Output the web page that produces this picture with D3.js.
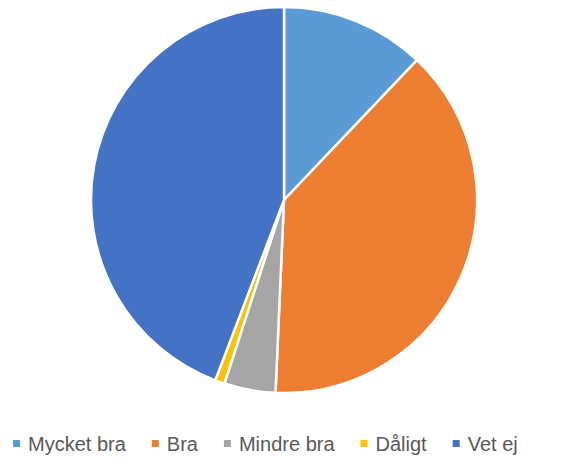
<!DOCTYPE html>
<html><head><meta charset="utf-8">
<script src="https://cdn.jsdelivr.net/npm/d3@7"></script>
<style>body{margin:0;background:#fff}</style>
</head><body>
<svg id="c" width="573" height="463"></svg>
<script>
const categories = ["Mycket bra", "Bra", "Mindre bra", "Dåligt", "Vet ej"];
const values = [12.1, 38.6, 4.3, 0.8, 44.2];
const colors = ["#5B9BD5", "#ED7D31", "#A5A5A5", "#FFC000", "#4472C4"];

const svg = d3.select("#c");
const cx = 284, cy = 200, r = 193;
const data = categories.map((c, i) => ({cat: c, v: values[i], col: colors[i]}));
const pie = d3.pie().sort(null).value(d => d.v);
const arc = d3.arc().innerRadius(0).outerRadius(r);
const color = d3.scaleOrdinal().domain(categories).range(colors);

svg.append("g").attr("transform", `translate(${cx},${cy})`)
  .selectAll("path").data(pie(data)).join("path")
  .attr("d", arc)
  .attr("fill", d => color(d.data.cat))
  .attr("stroke", "#fff").attr("stroke-width", 2.5).attr("stroke-linejoin", "round");

// legend
const lg = svg.append("g");
let x = 13;
const ly = 444;
categories.forEach((c, i) => {
  lg.append("rect").attr("x", x).attr("y", ly - 4).attr("width", 7).attr("height", 7).attr("fill", color(c));
  const t = lg.append("text").attr("x", x + 15).attr("y", ly + 7)
    .attr("font-family", "Liberation Sans, Arial, sans-serif").attr("font-size", 20)
    .attr("fill", "#595959").text(c);
  const w = t.node().getComputedTextLength();
  x = x + 15 + w + 26;
});
</script>
</body></html>
